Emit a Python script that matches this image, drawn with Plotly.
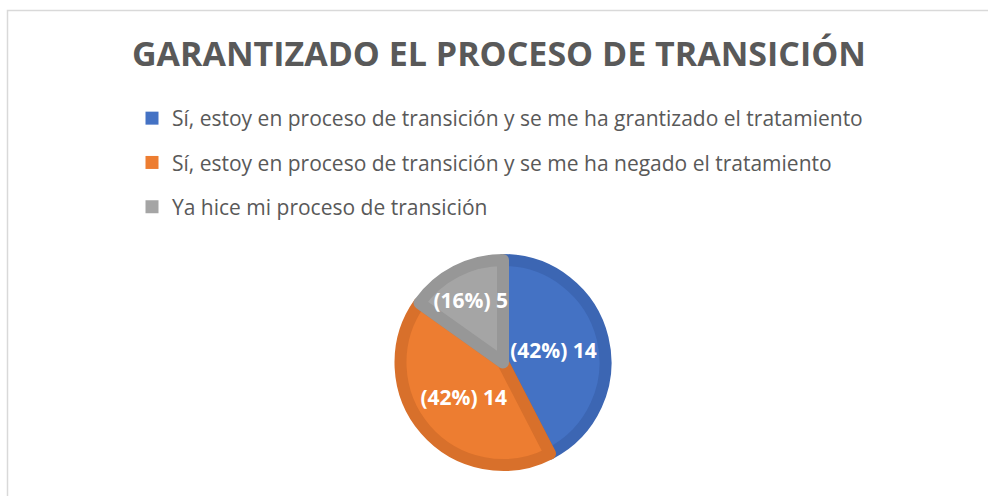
import plotly.graph_objects as go

# data
categories = [
    "Sí, estoy en proceso de transición y se me ha grantizado el tratamiento",
    "Sí, estoy en proceso de transición y se me ha negado el tratamiento",
    "Ya hice mi proceso de transición",
]
values = [14, 14, 5]
pct_labels = ["(42%)", "(42%)", "(16%)"]
colors = ["#4472C4", "#ED7D31", "#A5A5A5"]
edge_colors = ["#3C66B3", "#D8702B", "#979797"]

W, H = 988, 496

pie = go.Pie(
    labels=categories,
    values=values,
    text=pct_labels,
    texttemplate="%{text} %{value}",
    textposition="inside",
    insidetextorientation="horizontal",
    textfont=dict(family="Open Sans", size=21, color="white", weight="bold"),
    marker=dict(colors=colors, line=dict(color=edge_colors, width=12)),
    sort=False,
    direction="clockwise",
    rotation=0,
    showlegend=False,
    hoverinfo="label+value+percent",
    domain=dict(x=[399 / W, 607 / W], y=[(H - 465) / H, (H - 260) / H]),
)

fig = go.Figure(data=[pie])

# legend entries, one group per category so the gap can be set
for i, (name, c) in enumerate(zip(categories, colors)):
    fig.add_trace(go.Scatter(
        x=[None], y=[None],
        mode="markers",
        marker=dict(symbol="square", size=13, color=c),
        name=name,
        legendgroup=str(i),
        hoverinfo="skip",
    ))

fig.update_layout(
    width=W,
    height=H,
    margin=dict(l=0, r=0, t=0, b=0),
    paper_bgcolor="white",
    plot_bgcolor="white",
    xaxis=dict(visible=False),
    yaxis=dict(visible=False),
    uniformtext=dict(minsize=21, mode="show"),
    title=dict(
        text="<b>GARANTIZADO EL PROCESO DE TRANSICIÓN</b>",
        x=0.505,
        xanchor="center",
        y=1 - 54 / H,
        yanchor="middle",
        font=dict(family="Open Sans", size=34, color="#595959"),
    ),
    legend=dict(
        x=132 / W,
        xanchor="left",
        y=1 - 98 / H,
        yanchor="top",
        tracegroupgap=14,
        itemwidth=30,
        font=dict(family="Open Sans", size=21, color="#595959"),
        bgcolor="rgba(0,0,0,0)",
    ),
    shapes=[dict(
        type="rect", xref="paper", yref="paper",
        x0=7.5 / W, x1=1.02, y0=-0.02, y1=1 - 10.5 / H,
        line=dict(color="#D9D9D9", width=1.5),
    )],
)

# drop the default body margin so the figure sits at the page corner
fig.write_html(
    "out.html",
    config={"displayModeBar": False},
    post_script="document.body.style.margin='0';",
)
